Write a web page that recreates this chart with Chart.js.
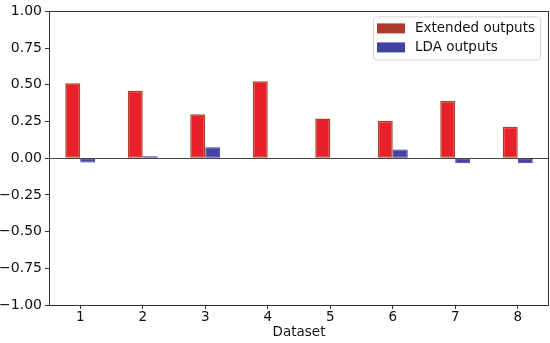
<!DOCTYPE html>
<html>
<head>
<meta charset="utf-8">
<script src="https://cdn.jsdelivr.net/npm/chart.js@4/dist/chart.umd.min.js"></script>
<style>
html,body{margin:0;padding:0;background:#fff;}
#wrap{width:550px;height:343px;position:relative;}
</style>
</head>
<body>
<div id="wrap"><canvas id="c" width="550" height="343"></canvas></div>
<script>
const categories = ['1','2','3','4','5','6','7','8'];
const extendedOutputs = [0.51, 0.46, 0.30, 0.525, 0.27, 0.255, 0.39, 0.215];
const ldaOutputs = [-0.03, 0.013, 0.075, 0.0, -0.005, 0.06, -0.035, -0.035];
const yTicks = [-1.00, -0.75, -0.50, -0.25, 0.00, 0.25, 0.50, 0.75, 1.00];

const FONT = "'DejaVu Sans', sans-serif";
const legendColors = ['#ac3a2c', '#4242a2'];

const framePlugin = {
  id: 'frame',
  beforeDatasetsDraw(chart) {
    const ctx = chart.ctx, a = chart.chartArea, y = chart.scales.y;
    const y0 = Math.round(y.getPixelForValue(0)) + 0.5;
    ctx.save();
    ctx.strokeStyle = '#444';
    ctx.lineWidth = 1;
    ctx.beginPath();
    ctx.moveTo(a.left, y0); ctx.lineTo(a.right, y0);
    ctx.stroke();
    ctx.restore();
  },
  afterDraw(chart) {
    const ctx = chart.ctx, a = chart.chartArea;
    ctx.save();
    ctx.strokeStyle = '#333';
    ctx.lineWidth = 1;
    ctx.strokeRect(Math.round(a.left) + 0.5, Math.round(a.top) + 0.5, Math.round(a.right - a.left) - 1, Math.round(a.bottom - a.top));
    // legend
    const bx = a.right - 176, by = a.top + 5, bw = 167, bh = 43;
    ctx.fillStyle = 'rgba(255,255,255,0.85)';
    ctx.strokeStyle = '#d6d6d6';
    ctx.beginPath();
    ctx.roundRect(bx + 0.5, by + 0.5, bw, bh, 3);
    ctx.fill(); ctx.stroke();
    ctx.font = '13.5px ' + FONT;
    ctx.textBaseline = 'middle';
    chart.data.datasets.forEach((ds, i) => {
      const cy = by + 12 + i * 19;
      ctx.fillStyle = legendColors[i];
      ctx.fillRect(bx + 4, cy - 5, 28, 10);
      ctx.fillStyle = '#111';
      ctx.fillText(ds.label, bx + 42, cy);
    });
    ctx.restore();
  }
};

new Chart(document.getElementById('c'), {
  type: 'bar',
  data: {
    labels: categories,
    datasets: [
      { label: 'Extended outputs', data: extendedOutputs, backgroundColor: '#e8202a', borderColor: '#a8432a', borderWidth: 1.5, borderSkipped: false },
      { label: 'LDA outputs', data: ldaOutputs, backgroundColor: '#4343a3', borderColor: '#3b3b96', borderWidth: 1, borderSkipped: false }
    ]
  },
  options: {
    responsive: false,
    animation: false,
    datasets: { bar: { categoryPercentage: 0.48, barPercentage: 1.0 } },
    layout: { padding: { top: 9, right: 1, left: 0, bottom: 0 } },
    plugins: { legend: { display: false }, tooltip: { enabled: false } },
    scales: {
      x: {
        grid: { display: true, drawOnChartArea: false, drawTicks: true, tickLength: 4, color: '#333', offset: false },
        border: { display: false },
        ticks: { color: '#111', font: { family: FONT, size: 13.5 }, padding: 0, maxRotation: 0 },
        title: { display: true, text: 'Dataset', color: '#111', font: { family: FONT, size: 13.5 }, padding: { top: 0, bottom: 2 } },
        afterFit(s) { s.height = 38; }
      },
      y: {
        min: -1, max: 1,
        afterBuildTicks(s) { s.ticks = yTicks.map(v => ({ value: v })); },
        grid: { display: true, drawOnChartArea: false, drawTicks: true, tickLength: 4, color: '#333' },
        border: { display: false },
        ticks: { color: '#111', font: { family: FONT, size: 14 }, padding: 3, callback: v => (v < 0 ? '\u2212' + Math.abs(v).toFixed(2) : v.toFixed(2)) },
        afterFit(s) { s.width = 49; }
      }
    }
  },
  plugins: [framePlugin]
});
</script>
</body>
</html>
